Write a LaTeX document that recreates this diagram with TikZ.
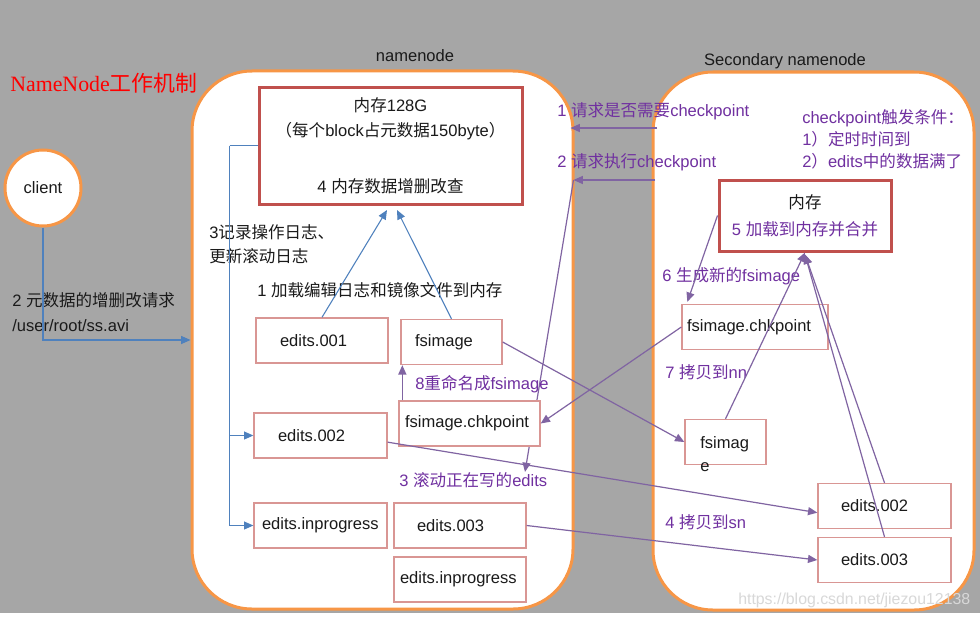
\documentclass[tikz,border=0pt]{standalone}
\usepackage{fontspec}
\setmainfont{Liberation Sans}
\newfontfamily\zhfont{Noto Sans CJK SC}
\newfontfamily\titlefont{Liberation Serif}
\usetikzlibrary{arrows.meta,calc}
\definecolor{bggray}{HTML}{A6A6A6}
\definecolor{frameorange}{HTML}{F79646}
\definecolor{memred}{HTML}{C0504D}
\definecolor{fileline}{HTML}{D99694}
\definecolor{loadblue}{HTML}{4F81BD}
\definecolor{ckpurple}{HTML}{8064A2}
\definecolor{cktext}{HTML}{7030A0}
\definecolor{inktext}{HTML}{1A1A1A}
\definecolor{marktext}{HTML}{D8D8D8}
\newcommand\zh[1]{{\zhfont #1}}
\begin{document}
\begin{tikzpicture}[
x=0.75pt, y=-0.75pt,
font=\fontsize{12.4}{18.75}\selectfont,
text=inktext,
>={Triangle[length=7pt,width=6pt]},
hostbox/.style={draw=frameorange, line width=2.25pt, fill=white, rounded corners=45pt},
membox/.style={draw=memred, line width=2.25pt, fill=white, align=center},
filebox/.style={draw=fileline, line width=1pt, fill=white, minimum height=33.75pt, inner ysep=0pt, align=left},
blueline/.style={draw=loadblue, line width=0.8pt, ->},
ckarrow/.style={draw=ckpurple, line width=0.9pt, ->},
note/.style={anchor=base west, align=left, inner sep=0pt},
cknote/.style={note, text=cktext}
]
\useasboundingbox (0,0) rectangle (980,617);
\fill[bggray] (0,0) rectangle (980,613);
\fill[white] (0,613) rectangle (980,617);

\node[anchor=base west, inner sep=0pt, text=red, font=\titlefont\fontsize{16.4}{20}\selectfont] (title) at (10,91) {NameNode\zh{工作机制}};

% the two hosts
\node[hostbox, minimum width=285.75pt, minimum height=403.5pt] (nnBox) at (382.5,340) {};
\node (nnLabel) at (415,56) {namenode};
\node[hostbox, minimum width=240.75pt, minimum height=403.5pt] (snBox) at (813.5,341) {};
\node (snLabel) at (785,61) {Secondary namenode};

\node[circle, draw=frameorange, line width=2.25pt, fill=white, minimum size=57pt, inner sep=0pt] (client) at (43,188) {client};

% request 2 runs behind the chkpoint box
\coordinate (askA) at (657,128);
\coordinate (askB) at (655,180);
\coordinate (rollEnd) at (525,472);
\draw[ckarrow] (askA) -- ($(askA -| nnBox.east)+(-4,0)$);
\draw[ckarrow] (askB) -- ($(askB -| nnBox.east)+(-1,0)$) coordinate (rollTop);
\draw[ckarrow] (rollTop) -- (rollEnd);

\node[membox, minimum width=197.25pt, minimum height=87.75pt] (nnMem) at (390.5,145.5) {\zh{内存}128G\\\zh{（每个}block\zh{占元数据}150byte\zh{）}\\[23pt]4 \zh{内存数据增删改查}};
	\node[filebox, text width=63pt, inner xsep=18pt] (nnEdA) at (322,340.5) {edits.001};
	\node[filebox, text width=54.75pt, inner xsep=10.5pt] (nnImg) at (451.5,342) {fsimage};
	\node[filebox, text width=96.75pt, inner xsep=4.5pt] (nnChk) at (469.5,423.5) {fsimage.chkpoint};
	\node[filebox, text width=63.75pt, inner xsep=18pt] (nnEdB) at (320.5,435.5) {edits.002};
	\node[filebox, text width=87.75pt, inner xsep=6pt] (nnEdIn) at (320.5,525.5) {edits.inprogress};
	\node[filebox, text width=64.5pt, inner xsep=17.25pt] (nnEdC) at (460,525.5) {edits.003};
	\node[filebox, text width=90pt, inner xsep=4.5pt] (nnEdInB) at (460,579.5) {edits.inprogress};

\node[membox, minimum width=129pt, minimum height=53.25pt] (snMem) at (805,215.5) {\zh{内存}\\[1.5pt]\textcolor{cktext}{5 \zh{加载到内存并合并}}};
	\node[filebox, text width=102pt, inner xsep=3.75pt] (snChk) at (755,327) {fsimage.chkpoint};
	\node[filebox, minimum width=60.75pt] (snImg) at (725.5,442) {};
		\node[note, font=\fontsize{12.4}{17.25}\selectfont] (snImgText) at (700,471) {fsimag\\e};
	\node[filebox, text width=65.25pt, inner xsep=17.25pt] (snEdB) at (884.5,506) {edits.002};
	\node[filebox, text width=65.25pt, inner xsep=17.25pt] (snEdC) at (884.5,560) {edits.003};

% multi-line notes sit on their last line
\node[note] (reqNote) at (12,331) {2 \zh{元数据的增删改请求}\\/user/root/ss.avi};
\node[note, font=\fontsize{12.4}{18}\selectfont] (logNote) at (209,262) {3\zh{记录操作日志、}\\\zh{更新滚动日志}};
\node[note] (loadNote) at (257,296) {1 \zh{加载编辑日志和镜像文件到内存}};
\node[cknote] (renameNote) at (415,389) {8\zh{重命名成}fsimage};
\node[cknote] (askNoteA) at (557,116) {1 \zh{请求是否需要}checkpoint};
\node[cknote] (askNoteB) at (557,167) {2 \zh{请求执行}checkpoint};
\node[cknote] (rollNote) at (399,486) {3 \zh{滚动正在写的}edits};
\node[cknote, font=\fontsize{12.4}{16.5}\selectfont] (trigNote) at (802,167) {checkpoint\zh{触发条件：}\\1\zh{）定时时间到}\\2\zh{）}edits\zh{中的数据满了}};
\node[cknote] (genNote) at (662,281) {6 \zh{生成新的}fsimage};
\node[cknote] (copyNnNote) at (665,378) {7 \zh{拷贝到}nn};
\node[cknote] (copySnNote) at (665,528) {4 \zh{拷贝到}sn};
\node[note, text=marktext, font=\fontsize{11.9}{14}\selectfont] (mark) at (738,604) {https://blog.csdn.net/jiezou12138};

\draw[blueline] (client.south) |- (nnBox.west);
\draw[blueline,-] (nnMem.west) -- ++(-28,0) coordinate (logBus);
	\draw[blueline] (logBus) |- (nnEdB.west);
	\draw[blueline] (logBus) |- (nnEdIn.west);
\coordinate (memInA) at (387,210);
\coordinate (memInB) at (397,210);
\draw[blueline] (nnEdA.north) -- (memInA);
\draw[blueline] (nnImg.north) -- (memInB);

\draw[ckarrow] ([xshift=3pt]nnChk.north west) -- ([xshift=1.5pt]nnImg.south west);
\draw[ckarrow] (nnImg.east) -- (snImg.west);
\draw[ckarrow] (snChk.west) -- (nnChk.east);
\draw[ckarrow] ([yshift=-5pt]nnEdB.east) -- ([yshift=-5pt]snEdB.west);
\draw[ckarrow] (nnEdC.east) -- (snEdC.west);
\draw[ckarrow] (snMem.west) -- ([xshift=4.5pt,yshift=1.5pt]snChk.north west);
\draw[ckarrow] (snImg.north) -- (snMem.south);
\draw[ckarrow] (snEdB.north) -- ([yshift=-1.5pt]snMem.south);
\draw[ckarrow] (snEdC.north) -- ([yshift=-1.5pt]snMem.south);

\end{tikzpicture}
\end{document}
